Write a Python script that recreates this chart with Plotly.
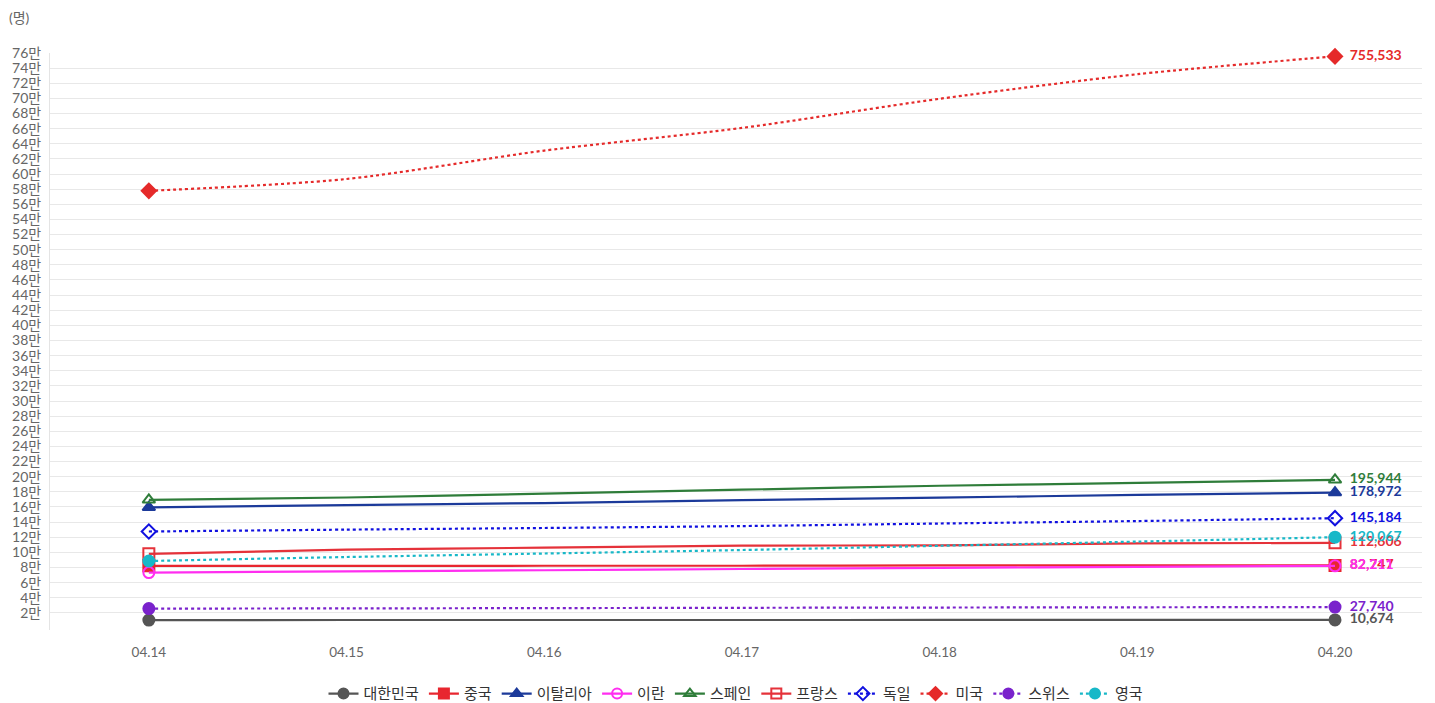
import plotly.graph_objects as go

dates = ["04.14", "04.15", "04.16", "04.17", "04.18", "04.19", "04.20"]

korea = [10564, 10591, 10613, 10635, 10653, 10661, 10674]
china = [82160, 82249, 82295, 82341, 82692, 82719, 82747]
italy = [159516, 162488, 165155, 168941, 172434, 175925, 178972]
iran = [73303, 74877, 76389, 77995, 79494, 80868, 82211]
spain = [169496, 172541, 177633, 182816, 188068, 191726, 195944]
france = [98076, 103573, 106206, 108847, 109252, 111821, 112606]
germany = [127584, 130072, 132210, 134753, 138135, 141397, 145184]
usa = [577842, 593500, 631000, 661000, 699500, 732000, 755533]
swiss = [25688, 25936, 26336, 26732, 27078, 27404, 27740]
uk = [88621, 93873, 98476, 103093, 108692, 114217, 120067]

series = [
    ("대한민국", korea, "#555555", "circle", "solid"),
    ("중국", china, "#e8262f", "square", "solid"),
    ("이탈리아", italy, "#1c3a9a", "triangle-up", "solid"),
    ("이란", iran, "#ff2ef0", "circle-open", "solid"),
    ("스페인", spain, "#2f7d3a", "triangle-up-open", "solid"),
    ("프랑스", france, "#e5323a", "square-open", "solid"),
    ("독일", germany, "#1010e0", "diamond-open", "dot"),
    ("미국", usa, "#e52a2a", "diamond", "dot"),
    ("스위스", swiss, "#7a22cc", "circle", "dot"),
    ("영국", uk, "#18b8c8", "circle", "dot"),
]

ytick_vals = list(range(20000, 760001, 20000))
ytick_text = [f"{v // 10000}만" for v in ytick_vals]

fig = go.Figure()
for name, vals, color, sym, dash in series:
    fig.add_trace(go.Scatter(
        x=dates, y=vals, mode="lines", name=name, legendgroup=name,
        showlegend=False, line=dict(color=color, width=2.2, dash=dash, shape="spline", smoothing=0.8),
        hoverinfo="skip"))
    fig.add_trace(go.Scatter(
        x=[dates[0], dates[-1]], y=[vals[0], vals[-1]], mode="markers+text",
        legendgroup=name, showlegend=False,
        marker=dict(color=color, symbol=sym, size=11,
                    line=dict(color=color, width=2)),
        text=["", "\u00a0\u00a0" + f"{vals[-1]:,}"], textposition="middle right",
        textfont=dict(color=color, size=14, family="Lato", weight="bold"),
        cliponaxis=False))
    fig.add_trace(go.Scatter(
        x=[None], y=[None], mode="lines+markers", name=name, legendgroup=name,
        line=dict(color=color, width=2.2, dash=dash),
        marker=dict(color=color, symbol=sym, size=10, line=dict(color=color, width=2))))

fig.update_layout(
    width=1435, height=703,
    margin=dict(l=50, r=13, t=53, b=73, autoexpand=False),
    plot_bgcolor="white", paper_bgcolor="white",
    font=dict(family="Lato, 'Noto Sans CJK KR', sans-serif", color="#666666", size=13),
    xaxis=dict(type="category", range=[-0.5, 6.44], showgrid=False, automargin=False,
               showline=False, zeroline=False, ticks="", ticklabelstandoff=12,
               tickfont=dict(size=13.5, color="#666666")),
    yaxis=dict(range=[-2600, 760000], tickvals=ytick_vals, ticktext=ytick_text,
               showgrid=True, gridcolor="#e8e8e8", gridwidth=1, automargin=False,
               zeroline=False, showline=True, linecolor="#e4e4e4",
               ticks="", ticklabelstandoff=5,
               tickfont=dict(size=14, color="#666666")),
    legend=dict(orientation="h", x=0.5, xanchor="center", yref="container", y=0.013,
                yanchor="middle", font=dict(size=15, color="#333333"), itemwidth=30,
                bgcolor="rgba(0,0,0,0)"),
    showlegend=True,
)
fig.add_annotation(text="(명)", xref="paper", yref="paper",
                   x=-0.031, y=1.062, xanchor="left", yanchor="middle",
                   showarrow=False, font=dict(size=14, color="#666666"))

fig.write_html("out.html", config={"displayModeBar": False},
               post_script="document.body.style.margin='0';document.body.style.overflow='hidden';")
